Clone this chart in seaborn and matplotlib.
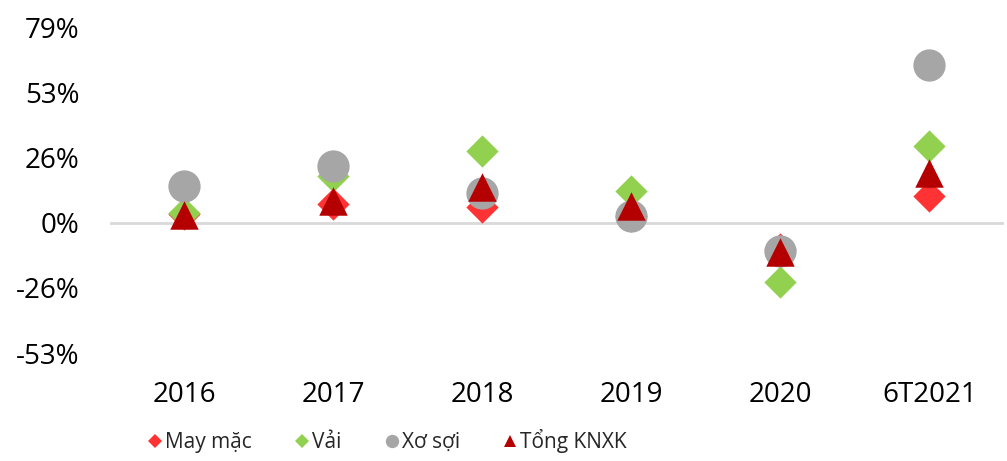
import numpy as np
import pandas as pd
import matplotlib
matplotlib.use("Agg")
import matplotlib.pyplot as plt
import seaborn as sns
from matplotlib.lines import Line2D

# 数据（从图中读取的百分比，%）
years = ["2016", "2017", "2018", "2019", "2020", "6T2021"]
series_names = ["May mặc", "Vải", "Xơ sợi", "Tổng KNXK"]
may_mac = [3.5, 7.7, 6.2, 2.8, -10.5, 11.0]
vai = [3.8, 19.0, 28.9, 13.0, -24.0, 31.0]
xo_soi = [15.0, 22.8, 11.9, 2.8, -11.3, 64.0]
tong_knxk = [3.0, 9.0, 14.3, 6.9, -12.0, 20.0]
y_ticks = [-52.8, -26.4, 0, 26.4, 52.8, 79.2]

sns.set_style("white")
plt.rcParams['font.family'] = ['Open Sans', 'DejaVu Sans']

df = pd.DataFrame({
    "year": years * 4,
    "series": np.repeat(series_names, len(years)),
    "value": may_mac + vai + xo_soi + tong_knxk,
})

# 样式：颜色、标记、大小
colors = {"May mặc": "#FF3333", "Vải": "#92D050", "Xơ sợi": "#A6A6A6", "Tổng KNXK": "#B40000"}
markers = {"May mặc": "D", "Vải": "D", "Xơ sợi": "o", "Tổng KNXK": "^"}
sizes = {"May mặc": 270, "Vải": 270, "Xơ sợi": 540, "Tổng KNXK": 420}
legend_ms = {"May mặc": 7, "Vải": 7, "Xơ sợi": 9.6, "Tổng KNXK": 9}

fig = plt.figure(figsize=(10.07, 4.61), dpi=100)
ax = fig.add_axes([0.109, 0.234, 0.888, 0.707])

ax.axhline(0, color="#D9D9D9", lw=2, zorder=1)

for i, name in enumerate(series_names):
    sub = df[df["series"] == name]
    sns.scatterplot(data=sub, x="year", y="value", ax=ax, color=colors[name],
                    marker=markers[name], s=sizes[name], linewidth=0,
                    zorder=2 + i, legend=False)

ax.set_xlim(-0.5, len(years) - 0.5)
ax.set_ylim(y_ticks[0], y_ticks[-1])
ax.set_yticks(y_ticks)
ax.set_yticklabels([f"{v:.0f}%" for v in y_ticks])
ax.set_xlabel("")
ax.set_ylabel("")
ax.tick_params(axis="both", length=0, labelsize=20, colors="black")
ax.tick_params(axis="x", pad=20)
ax.tick_params(axis="y", pad=22)
for sp in ax.spines.values():
    sp.set_visible(False)

# 图例
handles = [Line2D([], [], linestyle="none", marker=markers[n], color=colors[n],
                  markersize=legend_ms[n], markeredgewidth=0)
           for n in series_names]
fig.legend(handles, series_names, loc="center", bbox_to_anchor=(0.385, 0.043),
           ncol=4, frameon=False, handlelength=0.6, fontsize=15,
           handletextpad=0.2, columnspacing=2.1, borderaxespad=0)

plt.savefig("out.png", dpi=100)
